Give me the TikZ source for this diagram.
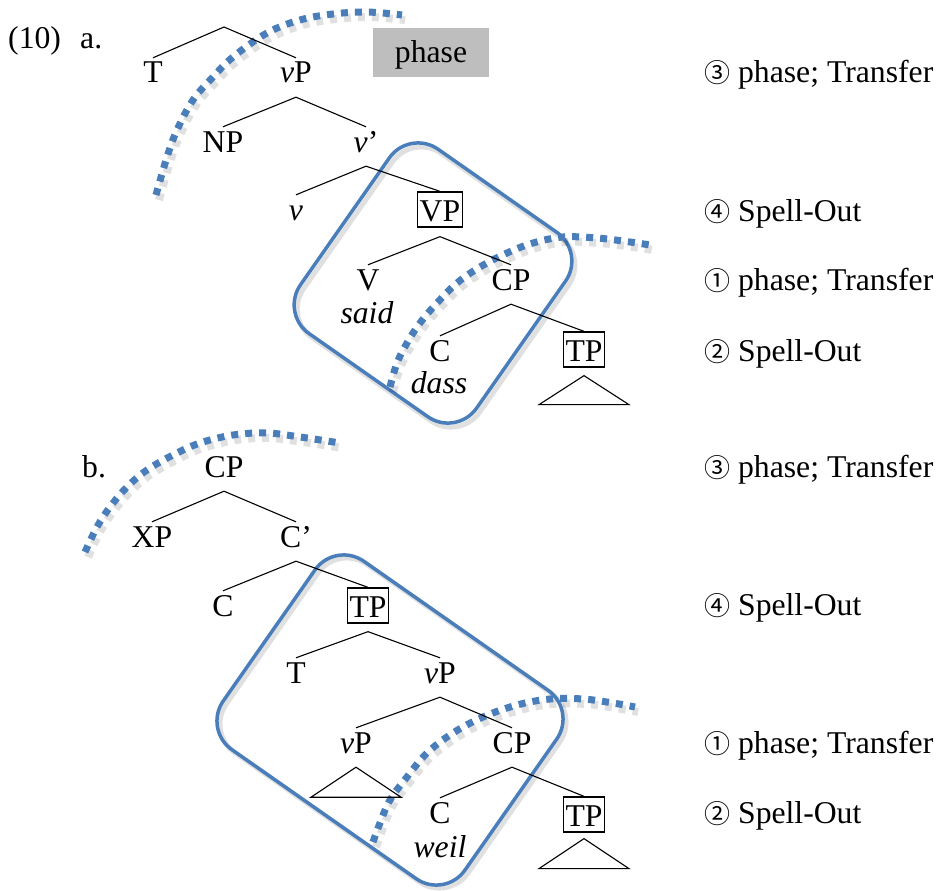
\documentclass[tikz,border=0pt]{standalone}
\usepackage{fontspec}
\setmainfont{Liberation Serif}
\newfontfamily\circfontfam{Noto Sans CJK JP}
\newcommand{\circd}[1]{{\circfontfam\fontsize{26}{30}\selectfont #1}}
\definecolor{bl}{RGB}{74,126,187}
\definecolor{phgray}{RGB}{190,190,190}
\begin{document}
\begin{tikzpicture}[x=1pt,y=-1pt,
  every node/.style={font=\fontsize{31.7}{38}\selectfont, inner sep=0pt},
  lab/.style={anchor=base, text height=21pt, text depth=10pt, inner xsep=2pt, inner ysep=4pt},
  boxed/.style={anchor=base, draw, line width=1.3pt, text height=28pt, text depth=5pt, inner xsep=2pt, inner ysep=1pt},
  txt/.style={anchor=base west},
  branch/.style={line width=1.1pt},
  tri/.style={line width=1.1pt},
  phasebox/.style={fill=phgray, minimum width=116pt, minimum height=49pt, text height=24pt, text depth=3pt},
  loop/.style={bl, line width=3.5pt, rounded corners=35pt},
  loopshadow/.style={black, opacity=0.12, line width=5pt, rounded corners=35pt},
  dots/.style={bl, line width=7pt, dash pattern=on 7pt off 7pt},
  dotshadow/.style={black, opacity=0.12, line width=8pt, dash pattern=on 7pt off 7pt},
]
\useasboundingbox (0,0) rectangle (938,891);

% ---------- blue loops ----------
\begin{scope}[shift={(436,287)}, rotate=-35]
  \draw[loopshadow] (-107.5,-112.5) rectangle (107.5,112.5);
\end{scope}
\begin{scope}[shift={(433,283)}, rotate=-35]
  \draw[loop] (-107.5,-112.5) rectangle (107.5,112.5);
\end{scope}
\begin{scope}[shift={(393,723)}, rotate=-35]
  \draw[loopshadow] (-147.5,-115) rectangle (147.5,115);
\end{scope}
\begin{scope}[shift={(390,720)}, rotate=-35]
  \draw[loop] (-147.5,-115) rectangle (147.5,115);
\end{scope}

% ---------- dotted phase boundaries ----------
\begin{scope}[shift={(3,5)}]
\draw[dotshadow] plot[smooth, tension=0.6] coordinates {(156,195) (167,157) (177,130) (193,100) (213,77) (233,57) (267,33) (300,20) (333,14) (367,12) (402,15)};
\draw[dotshadow] plot[smooth, tension=0.6] coordinates {(390,387) (397,363) (407,343) (420,323) (437,303) (457,283) (480,267) (507,253) (533,243) (563,237) (597,238) (630,242) (650,245)};
\draw[dotshadow] plot[smooth, tension=0.6] coordinates {(85,552) (97,527) (110,507) (127,487) (147,470) (173,455) (200,443) (233,435) (267,433) (300,437) (340,443)};
\draw[dotshadow] plot[smooth, tension=0.6] coordinates {(373,842) (380,823) (390,800) (407,777) (427,753) (453,733) (483,717) (517,705) (550,699) (583,699) (613,703) (635,707)};
\end{scope}
\draw[dots] plot[smooth, tension=0.6] coordinates {(156,195) (167,157) (177,130) (193,100) (213,77) (233,57) (267,33) (300,20) (333,14) (367,12) (402,15)};
\draw[dots] plot[smooth, tension=0.6] coordinates {(390,387) (397,363) (407,343) (420,323) (437,303) (457,283) (480,267) (507,253) (533,243) (563,237) (597,238) (630,242) (650,245)};
\draw[dots] plot[smooth, tension=0.6] coordinates {(85,552) (97,527) (110,507) (127,487) (147,470) (173,455) (200,443) (233,435) (267,433) (300,437) (340,443)};
\draw[dots] plot[smooth, tension=0.6] coordinates {(373,842) (380,823) (390,800) (407,777) (427,753) (453,733) (483,717) (517,705) (550,699) (583,699) (613,703) (635,707)};

% ---------- (10a) ----------
\node[txt] (num) at (8,49) {(10)};
\node[txt] (la) at (80,49) {a.};
\node[phasebox] (phase) at (431,52.5) {phase};

\coordinate (topA) at (224,27);
\node[lab] (Ta) at (153,83) {T};
\node[lab] (vPa) at (296,83) {\textit{v}P};
\node[lab] (NPa) at (223,152) {NP};
\node[lab] (vbar) at (366,152) {\textit{v}’};
\node[lab] (va) at (296,220) {\textit{v}};
\node[boxed] (VPa) at (440,221) {VP};
\node[lab] (Va) at (368,290) {V};
\node[lab] (said) at (367,323) {\textit{said}};
\node[lab] (CPa) at (511,290) {CP};
\node[lab] (Ca) at (440,361) {C};
\node[lab] (dass) at (439,393) {\textit{dass}};
\node[boxed] (TPa) at (584,361) {TP};

\draw[branch] (Ta.north) -- (topA) -- (vPa.north);
\draw[branch] (NPa.north) -- (vPa.south) -- (vbar.north);
\draw[branch] (va.north) -- (vbar.south) -- (VPa.north);
\coordinate (VPaF) at ([yshift=-9pt]VPa.south);
\draw[branch] (Va.north) -- (VPaF) -- (CPa.north);
\draw[branch] (Ca.north) -- (CPa.south) -- (TPa.north);
\coordinate (triA) at ([yshift=-8pt]TPa.south);
\draw[tri] (triA) -- ++(-45,29) -- ++(90,0) -- cycle;

\node[txt] (ra3) at (704,83) {\circd{③} phase; Transfer};
\node[txt] (ra4) at (704,221) {\circd{④} Spell-Out};
\node[txt] (ra1) at (704,290) {\circd{①} phase; Transfer};
\node[txt] (ra2) at (704,361) {\circd{②} Spell-Out};

% ---------- (10b) ----------
\node[txt] (lb) at (82,477) {b.};
\node[lab] (CPb) at (224,477) {CP};
\node[lab] (XPb) at (152,547) {XP};
\node[lab] (Cbar) at (296,547) {C’};
\node[lab] (Cb1) at (223,616) {C};
\node[boxed] (TPb1) at (368,617) {TP};
\node[lab] (Tb) at (296,683) {T};
\node[lab] (vPb) at (440,683) {\textit{v}P};
\node[lab] (vPb2) at (356,753) {\textit{v}P};
\node[lab] (CPb2) at (512,753) {CP};
\node[lab] (Cb2) at (440,823) {C};
\node[lab] (weil) at (440,857) {\textit{weil}};
\node[boxed] (TPb2) at (584,826) {TP};

\draw[branch] (XPb.north) -- (CPb.south) -- (Cbar.north);
\draw[branch] (Cb1.north) -- (Cbar.south) -- (TPb1.north);
\coordinate (TPb1F) at ([yshift=-8pt]TPb1.south);
\draw[branch] (Tb.north) -- (TPb1F) -- (vPb.north);
\draw[branch] (vPb2.north) -- (vPb.south) -- (CPb2.north);
\draw[branch] (Cb2.north) -- (CPb2.south) -- (TPb2.north);
\coordinate (triB1) at (vPb2.south);
\draw[tri] (triB1) -- ++(-45,30) -- ++(90,0) -- cycle;
\coordinate (triB2) at ([yshift=-6pt]TPb2.south);
\draw[tri] (triB2) -- ++(-45,30) -- ++(90,0) -- cycle;

\node[txt] (rb3) at (704,477) {\circd{③} phase; Transfer};
\node[txt] (rb4) at (704,615) {\circd{④} Spell-Out};
\node[txt] (rb1) at (704,753) {\circd{①} phase; Transfer};
\node[txt] (rb2) at (704,823) {\circd{②} Spell-Out};
\end{tikzpicture}
\end{document}
